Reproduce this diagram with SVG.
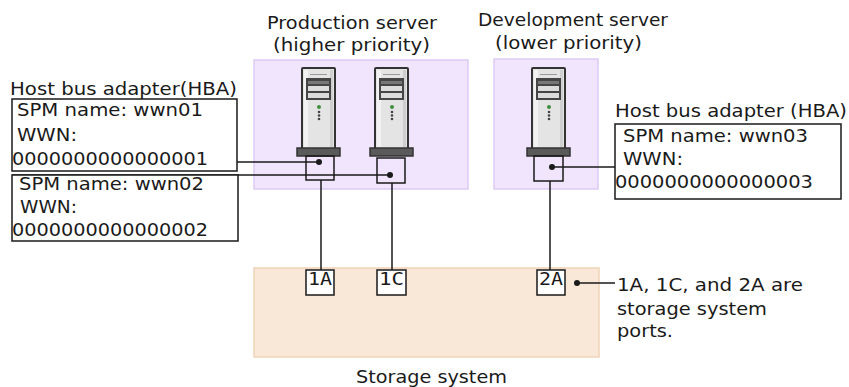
<svg xmlns="http://www.w3.org/2000/svg" xmlns:xlink="http://www.w3.org/1999/xlink" width="849" height="387" viewBox="0 0 849 387">
<style>
  text { font-family: "DejaVu Sans", "Liberation Sans", sans-serif; font-size: 17px; fill: #1a1a1a; }
  .port { font-family: "DejaVu Sans Mono", "Liberation Mono", monospace; font-size: 17px; }
  .zone { fill: #f0e5fc; stroke: #dccaf6; stroke-width: 1.5; }
  .storage { fill: #f9e7d7; stroke: #f0d3b9; stroke-width: 1.5; }
  .box { fill: #ffffff; stroke: #1a1a1a; stroke-width: 1.5; }
  .wire { stroke: #1a1a1a; stroke-width: 1.5; fill: none; }
  .dot { fill: #1a1a1a; }
</style>
<defs>
  <g id="server">
    <rect x="5" y="68" width="33" height="81" rx="1" fill="#e4e4e4" stroke="#333" stroke-width="2"/>
    <rect x="7" y="70" width="4" height="77" fill="#f2f2f2"/>
    <rect x="33" y="70" width="3" height="77" fill="#cfcfcf"/>
    <line x1="13" y1="74.5" x2="30" y2="74.5" stroke="#9a9a9a" stroke-width="1"/>
    <rect x="9" y="78" width="25" height="22" fill="#454545"/>
    <rect x="11" y="81" width="21" height="3" fill="#777"/>
    <rect x="11" y="86" width="21" height="5" fill="#dcdcdc"/>
    <rect x="11" y="93" width="21" height="5" fill="#dcdcdc"/>
    <circle cx="22" cy="107" r="2" fill="#3f8f3f"/>
    <circle cx="22" cy="112" r="1.3" fill="#444"/>
    <circle cx="22" cy="115.5" r="1.3" fill="#444"/>
    <circle cx="22" cy="119" r="1.3" fill="#444"/>
    <rect x="0" y="148" width="43" height="8" fill="#5a5a5a" stroke="#333" stroke-width="1.5"/>
  </g>
</defs>

<g id="production-zone">
  <rect class="zone" x="254" y="60" width="214" height="129"/>
  <text x="267" y="29" textLength="170" lengthAdjust="spacingAndGlyphs">Production server</text>
  <text x="273" y="51" textLength="157" lengthAdjust="spacingAndGlyphs">(higher priority)</text>
</g>

<g id="development-zone">
  <rect class="zone" x="494" y="59" width="104" height="130"/>
  <text x="478" y="26" textLength="190" lengthAdjust="spacingAndGlyphs">Development server</text>
  <text x="495" y="49" textLength="147" lengthAdjust="spacingAndGlyphs">(lower priority)</text>
</g>

<g id="storage-system">
  <rect class="storage" x="254" y="268" width="345" height="89"/>
  <text x="356" y="383" textLength="151" lengthAdjust="spacingAndGlyphs">Storage system</text>
</g>

<g id="server1">
  <use xlink:href="#server" href="#server" x="297" y="0"/>
</g>
<g id="server2">
  <use xlink:href="#server" href="#server" x="370" y="0"/>
</g>
<g id="server3">
  <use xlink:href="#server" href="#server" x="527" y="0"/>
</g>

<g id="connectors">
  <line class="wire" x1="237" y1="162" x2="319" y2="162"/>
  <line class="wire" x1="12" y1="175" x2="390" y2="175"/>
  <line class="wire" x1="552" y1="167" x2="615" y2="167"/>
  <line class="wire" x1="321" y1="180" x2="321" y2="270"/>
  <line class="wire" x1="392" y1="183" x2="392" y2="270"/>
  <line class="wire" x1="550" y1="181" x2="550" y2="270"/>
  <line class="wire" x1="577" y1="283" x2="615" y2="283"/>
</g>

<g id="hba1">
  <rect class="box" x="306" y="156" width="28" height="24" fill-opacity="0"/>
  <circle class="dot" cx="319" cy="162" r="3"/>
</g>
<g id="hba2">
  <rect class="box" x="377" y="158" width="28" height="25" fill-opacity="0"/>
  <circle class="dot" cx="390" cy="175" r="3"/>
</g>
<g id="hba3">
  <rect class="box" x="534" y="156" width="29" height="25" fill-opacity="0"/>
  <circle class="dot" cx="552" cy="167" r="3"/>
</g>

<g id="wwn01">
  <text x="10" y="95" textLength="227" lengthAdjust="spacingAndGlyphs">Host bus adapter(HBA)</text>
  <rect class="box" x="12" y="99" width="225" height="72"/>
  <text x="17" y="116" textLength="186" lengthAdjust="spacingAndGlyphs">SPM name: wwn01</text>
  <text x="17" y="141" textLength="60" lengthAdjust="spacingAndGlyphs">WWN:</text>
  <text x="12" y="165" textLength="196" lengthAdjust="spacingAndGlyphs">0000000000000001</text>
</g>

<g id="wwn02">
  <rect class="box" x="12" y="175" width="226" height="66"/>
  <text x="19" y="190" textLength="185" lengthAdjust="spacingAndGlyphs">SPM name: wwn02</text>
  <text x="20" y="213" textLength="57" lengthAdjust="spacingAndGlyphs">WWN:</text>
  <text x="12" y="236" textLength="196" lengthAdjust="spacingAndGlyphs">0000000000000002</text>
</g>

<g id="wwn03">
  <text x="615" y="117" textLength="232" lengthAdjust="spacingAndGlyphs">Host bus adapter (HBA)</text>
  <rect class="box" x="615" y="124" width="226" height="75"/>
  <text x="623" y="142" textLength="185" lengthAdjust="spacingAndGlyphs">SPM name: wwn03</text>
  <text x="623" y="165" textLength="60" lengthAdjust="spacingAndGlyphs">WWN:</text>
  <text x="615" y="188" textLength="198" lengthAdjust="spacingAndGlyphs">0000000000000003</text>
</g>

<g id="port-1A">
  <rect class="box" x="306" y="270" width="28" height="25"/>
  <text class="port" x="308" y="285" textLength="24" lengthAdjust="spacingAndGlyphs">1A</text>
</g>
<g id="port-1C">
  <rect class="box" x="377" y="270" width="29" height="25"/>
  <text class="port" x="379" y="285" textLength="25" lengthAdjust="spacingAndGlyphs">1C</text>
</g>
<g id="port-2A">
  <rect class="box" x="537" y="270" width="28" height="25"/>
  <text class="port" x="539" y="285" textLength="24" lengthAdjust="spacingAndGlyphs">2A</text>
</g>

<g id="ports-note">
  <circle class="dot" cx="577" cy="283" r="3"/>
  <text x="617" y="291" textLength="186" lengthAdjust="spacingAndGlyphs">1A, 1C, and 2A are</text>
  <text x="617" y="315" textLength="150" lengthAdjust="spacingAndGlyphs">storage system</text>
  <text x="617" y="337" textLength="56" lengthAdjust="spacingAndGlyphs">ports.</text>
</g>
</svg>
